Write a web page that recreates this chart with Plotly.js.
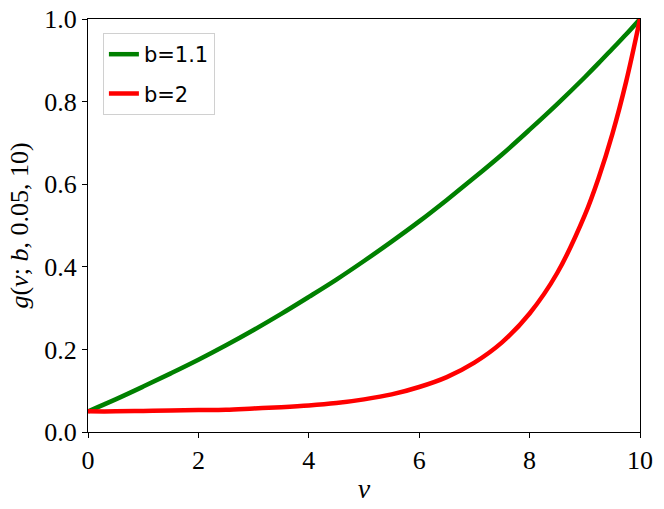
<!DOCTYPE html>
<html>
<head>
<meta charset="utf-8">
<script src="https://cdn.plot.ly/plotly-3.0.1.min.js"></script>
<style>
  html, body { margin: 0; padding: 0; background: #fff; }
  #chart { width: 664px; height: 509px; }
</style>
</head>
<body>
<div id="chart"></div>
<script>
// values
var nu = [0, 0.5, 1, 1.5, 2, 2.5, 3, 3.5, 4, 4.5, 5, 5.5, 6, 6.5, 7, 7.5, 8, 8.5, 9, 9.25, 9.5, 9.75, 10];
var gB11 = [0.050, 0.079, 0.110, 0.142, 0.175, 0.210, 0.247, 0.286, 0.327, 0.369, 0.414, 0.461, 0.510, 0.562, 0.616, 0.672, 0.732, 0.794, 0.859, 0.893, 0.928, 0.963, 1.0];
var gB2 = [0.050, 0.050, 0.051, 0.052, 0.053, 0.054, 0.057, 0.060, 0.064, 0.070, 0.079, 0.091, 0.109, 0.133, 0.168, 0.217, 0.287, 0.385, 0.525, 0.615, 0.722, 0.849, 1.0];
var seriesNames = ['b=1.1', 'b=2'];
var xTicks = [0, 2, 4, 6, 8, 10];
var yTicks = [0.0, 0.2, 0.4, 0.6, 0.8, 1.0];

var serif = 'Liberation Serif';

var green = {
  x: nu, y: gB11,
  name: seriesNames[0],
  legendgroup: 'g1',
  type: 'scatter', mode: 'lines',
  line: {color: '#008000', width: 4.5, shape: 'spline'}
};
var red = {
  x: nu, y: gB2,
  name: seriesNames[1],
  legendgroup: 'g2',
  type: 'scatter', mode: 'lines',
  line: {color: '#ff0000', width: 4.5, shape: 'spline'}
};

var layout = {
  width: 664,
  height: 509,
  margin: {l: 88, r: 24, t: 19, b: 77},
  paper_bgcolor: '#fff',
  plot_bgcolor: '#fff',
  showlegend: true,
  legend: {
    x: 0.027, y: 0.966,
    xanchor: 'left', yanchor: 'top',
    bgcolor: '#fff',
    bordercolor: '#d0d0d0',
    borderwidth: 1,
    traceorder: 'grouped',
    tracegroupgap: 9,
    font: {family: 'DejaVu Sans', size: 21, color: '#000'}
  },
  xaxis: {
    range: [0, 10],
    tickvals: xTicks,
    ticktext: xTicks.map(String),
    ticks: 'outside', ticklen: 5, tickwidth: 1, tickcolor: '#000',
    showgrid: false, zeroline: false,
    showline: true, mirror: true, linecolor: '#000', linewidth: 1,
    tickfont: {family: serif, size: 26, color: '#000'},
    title: {text: '<i>ν</i>', font: {family: serif, size: 28, color: '#000'}, standoff: 4}
  },
  yaxis: {
    range: [0, 1],
    tickvals: yTicks,
    ticktext: yTicks.map(function (v) { return v.toFixed(1); }),
    ticks: 'outside', ticklen: 5, tickwidth: 1, tickcolor: '#000',
    showgrid: false, zeroline: false,
    showline: true, mirror: true, linecolor: '#000', linewidth: 1,
    tickfont: {family: serif, size: 26, color: '#000'},
    title: {text: '<i>g</i>(<i>ν</i>; <i>b</i>, 0.05, 10)', font: {family: serif, size: 26, color: '#000'}, standoff: 8}
  }
};

Plotly.newPlot('chart', [green, red], layout, {displayModeBar: false, staticPlot: true});
</script>
</body>
</html>
